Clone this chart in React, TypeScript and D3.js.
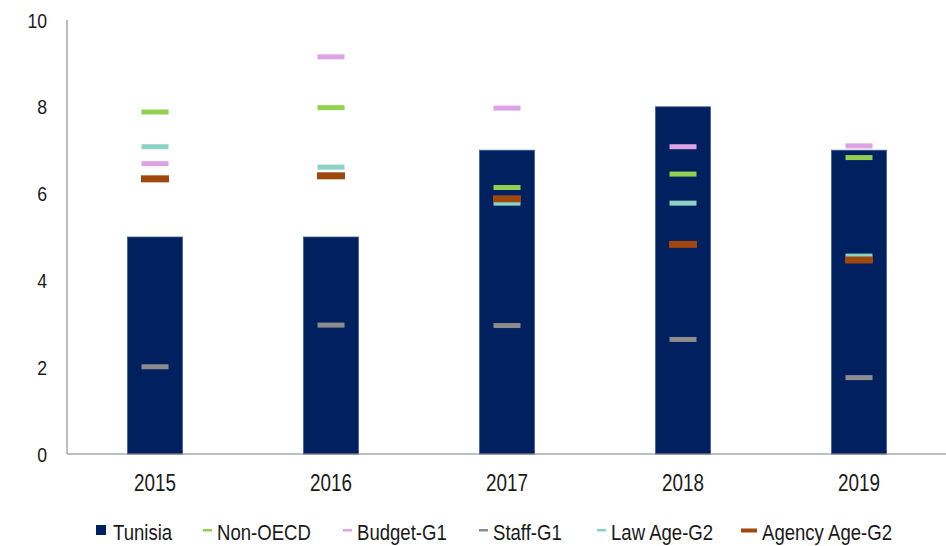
import React from "react";
import * as d3 from "d3";

const years = ["2015", "2016", "2017", "2018", "2019"];
const tunisia = [5, 5, 7, 8, 7];
const nonOECD = [7.88, 7.98, 6.14, 6.45, 6.83];
const budgetG1 = [6.69, 9.15, 7.97, 7.08, 7.1];
const staffG1 = [2.01, 2.97, 2.96, 2.64, 1.76];
const lawAgeG2 = [7.08, 6.61, 5.78, 5.78, 4.56];
const agencyAgeG2 = [6.34, 6.41, 5.88, 4.83, 4.47];
const yTicks = [0, 2, 4, 6, 8, 10];

const markerSeries = [
  { name: "Non-OECD", values: nonOECD, color: "#92D050", big: false },
  { name: "Budget-G1", values: budgetG1, color: "#DDA3E2", big: false },
  { name: "Staff-G1", values: staffG1, color: "#8C8C8C", big: false },
  { name: "Law Age-G2", values: lawAgeG2, color: "#8CD3C4", big: false },
  { name: "Agency Age-G2", values: agencyAgeG2, color: "#A0470E", big: true },
];
const drawOrder = ["Budget-G1", "Staff-G1", "Law Age-G2", "Non-OECD", "Agency Age-G2"];

const W = 946;
const H = 546;
const FONT = "'Liberation Sans', Arial, sans-serif";

function NText(props: {
  x: number;
  y: number;
  size: number;
  sx: number;
  anchor?: "start" | "middle" | "end";
  dy?: string;
  children: React.ReactNode;
}) {
  return (
    <text
      transform={`translate(${props.x},${props.y}) scale(${props.sx},1)`}
      dy={props.dy}
      textAnchor={props.anchor || "start"}
      fontFamily={FONT}
      fontSize={props.size}
      fill="#1a1a1a"
    >
      {props.children}
    </text>
  );
}

export default function App() {
  const x = d3
    .scaleBand<string>()
    .domain(years)
    .range([67, 947])
    .paddingInner(0.6875)
    .paddingOuter(0.34375);
  const y = d3.scaleLinear().domain([0, 10]).range([454, 20]);
  const bw = x.bandwidth();
  const navy = "#002060";

  const legendItems = [
    { name: "Tunisia", color: navy, kind: "square", x: 96 },
    { name: "Non-OECD", color: "#92D050", kind: "dash", x: 203 },
    { name: "Budget-G1", color: "#DDA3E2", kind: "dash", x: 343 },
    { name: "Staff-G1", color: "#8C8C8C", kind: "dash", x: 479 },
    { name: "Law Age-G2", color: "#8CD3C4", kind: "dash", x: 597 },
    { name: "Agency Age-G2", color: "#A0470E", kind: "bigdash", x: 741 },
  ];

  return (
    <svg width={W} height={H} style={{ position: "absolute", left: 0, top: 0, background: "#fff" }}>
      <rect x={0} y={0} width={W} height={H} fill="#fff" />
      {years.map((yr, i) => (
        <rect
          key={yr}
          x={x(yr)!}
          y={y(tunisia[i])}
          width={bw}
          height={y(0) - y(tunisia[i])}
          fill={navy}
          stroke="#3f5f94"
          strokeWidth={0.8}
        />
      ))}
      {drawOrder.map((nm) => {
        const s = markerSeries.find((m) => m.name === nm)!;
        return years.map((yr, i) => {
          const cx = x(yr)! + bw / 2;
          const w = s.big ? 28 : 27;
          const h = s.big ? 7 : 5;
          return (
            <rect
              key={nm + yr}
              x={cx - w / 2}
              y={y(s.values[i]) - h / 2}
              width={w}
              height={h}
              fill={s.color}
            />
          );
        });
      })}
      <line x1={67} x2={67} y1={20} y2={454} stroke="#7f7f7f" strokeWidth={1} />
      <line x1={67} x2={946} y1={454} y2={454} stroke="#7f7f7f" strokeWidth={1} />
      {yTicks.map((t) => (
        <NText key={t} x={47} y={y(t)} dy="0.36em" size={21} sx={0.84} anchor="end">
          {t}
        </NText>
      ))}
      {years.map((yr) => (
        <NText key={yr} x={x(yr)! + bw / 2} y={491} size={23} sx={0.82} anchor="middle">
          {yr}
        </NText>
      ))}
      {legendItems.map((it) => {
        const mw = it.kind === "square" ? 10 : it.kind === "bigdash" ? 16 : 9;
        return (
          <g key={it.name}>
            {it.kind === "square" ? (
              <rect x={it.x} y={525} width={mw} height={10} fill={it.color} />
            ) : it.kind === "bigdash" ? (
              <rect x={it.x} y={528.5} width={mw} height={4} fill={it.color} />
            ) : (
              <rect x={it.x} y={529} width={mw} height={2.5} fill={it.color} />
            )}
            <NText x={it.x + mw + (it.kind === "square" ? 7 : 5)} y={540} size={22} sx={0.844}>
              {it.name}
            </NText>
          </g>
        );
      })}
    </svg>
  );
}
